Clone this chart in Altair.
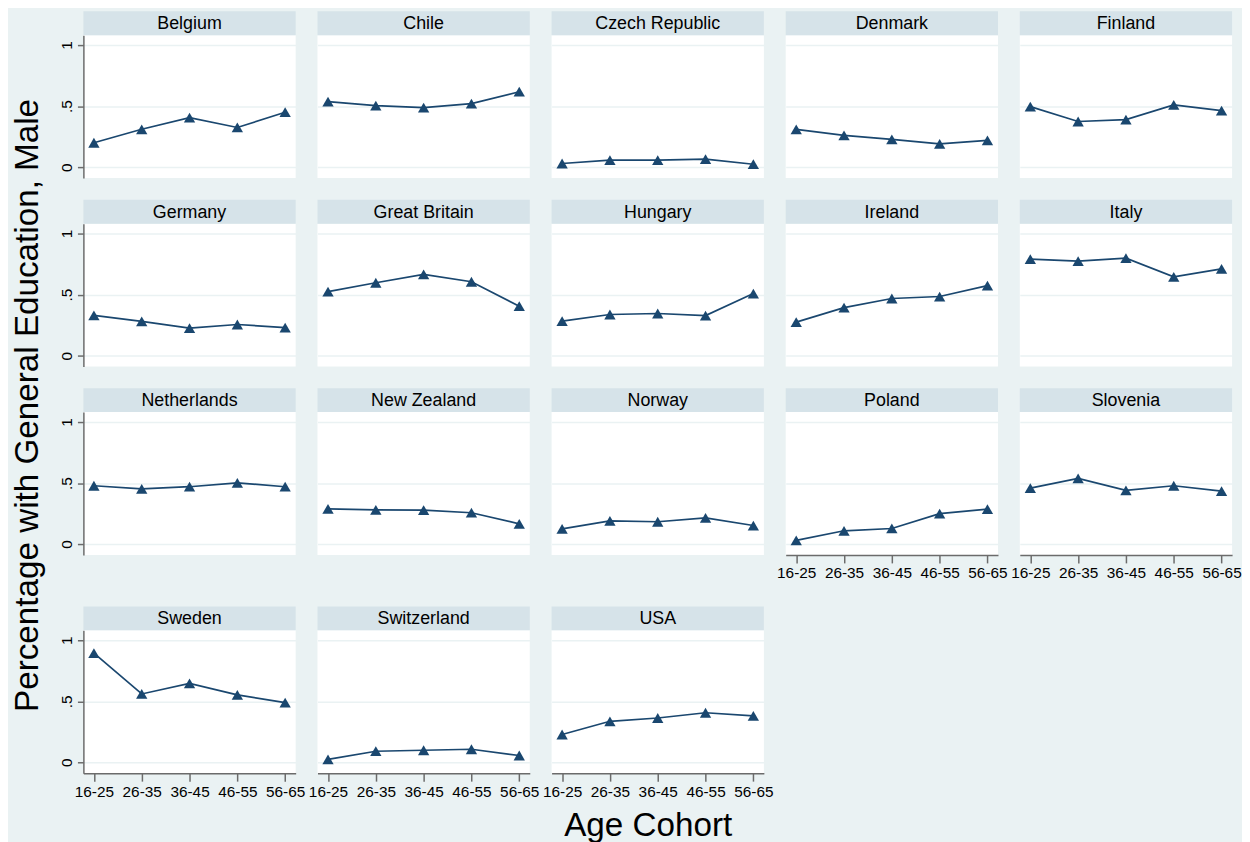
import altair as alt
import pandas as pd

cohorts = ["16-25", "26-35", "36-45", "46-55", "56-65"]

countries = ["Belgium", "Chile", "Czech Republic", "Denmark", "Finland",
             "Germany", "Great Britain", "Hungary", "Ireland", "Italy",
             "Netherlands", "New Zealand", "Norway", "Poland", "Slovenia",
             "Sweden", "Switzerland", "USA"]

belgium = [0.20, 0.31, 0.405, 0.325, 0.45]
chile = [0.537, 0.504, 0.488, 0.52, 0.618]
czech = [0.03, 0.057, 0.057, 0.065, 0.024]
denmark = [0.31, 0.26, 0.228, 0.19, 0.22]
finland = [0.496, 0.374, 0.39, 0.51, 0.463]
germany = [0.33, 0.28, 0.225, 0.255, 0.23]
great_britain = [0.524, 0.597, 0.665, 0.605, 0.405]
hungary = [0.282, 0.337, 0.345, 0.328, 0.508]
ireland = [0.274, 0.393, 0.468, 0.484, 0.573]
italy = [0.79, 0.774, 0.798, 0.645, 0.71]
netherlands = [0.478, 0.453, 0.47, 0.502, 0.47]
new_zealand = [0.289, 0.281, 0.279, 0.257, 0.166]
norway = [0.125, 0.19, 0.183, 0.215, 0.152]
poland = [0.03, 0.109, 0.128, 0.25, 0.286]
slovenia = [0.458, 0.538, 0.44, 0.478, 0.434]
sweden = [0.895, 0.56, 0.647, 0.553, 0.489]
switzerland = [0.024, 0.091, 0.099, 0.107, 0.056]
usa = [0.228, 0.336, 0.363, 0.406, 0.381]

series = [belgium, chile, czech, denmark, finland,
          germany, great_britain, hungary, ireland, italy,
          netherlands, new_zealand, norway, poland, slovenia,
          sweden, switzerland, usa]

W, H, HDR = 214, 144, 24
YDOM = [-0.089, 1.081]
NAVY = "#1a476f"
BG = "#eaf2f3"
STRIP = "#d6e3e9"
AXIS = "#6b6b6b"
FONT = "Liberation Sans"


def panel(name, values, show_y, show_x):
    df = pd.DataFrame({"cohort": cohorts, "value": values})
    hdf = pd.DataFrame({"country": [name]})
    if show_x:
        xaxis = alt.Axis(title=None, labelAngle=0, labelFontSize=15.5, labelFont=FONT,
                         labelColor="black", domainColor=AXIS, tickColor=AXIS,
                         tickSize=8, domainWidth=1.5, tickWidth=1.5, labelPadding=3,
                         grid=False)
    else:
        xaxis = None
    if show_y:
        yaxis = alt.Axis(title=None, values=[0, 0.5, 1],
                         labelExpr="datum.value == 0 ? '0' : (datum.value == 1 ? '1' : '.5')",
                         labelAngle=270, labelFontSize=15.5, labelFont=FONT, labelColor="black",
                         tickSize=6, tickColor=AXIS, domainColor=AXIS, domainWidth=1.5,
                         tickWidth=1.5, labelPadding=3, gridColor=BG, gridWidth=1.5)
    else:
        yaxis = alt.Axis(title=None, values=[0, 0.5, 1], labels=False, ticks=False,
                         domain=False, gridColor=BG, gridWidth=1.5)
    x = alt.X("cohort:O", sort=cohorts, scale=alt.Scale(type="point", padding=0.22), axis=xaxis)
    y = alt.Y("value:Q", scale=alt.Scale(domain=YDOM, nice=False, zero=False), axis=yaxis)
    base = alt.Chart(df).encode(x=x, y=y)
    line = base.mark_line(color=NAVY, strokeWidth=1.7)
    pts = base.mark_point(shape="triangle-up", filled=True, size=130, color=NAVY, opacity=1)
    strip = alt.Chart(hdf).mark_rect(color=STRIP).encode(
        x=alt.value(0), x2=alt.value(W), y=alt.value(-HDR), y2=alt.value(0))
    label = alt.Chart(hdf).mark_text(font=FONT, fontSize=18, color="black",
                                     baseline="middle", align="center").encode(
        text="country:N", x=alt.value(W / 2), y=alt.value(-HDR / 2 + 1))
    return alt.layer(line, pts, strip, label).properties(width=W, height=H)


# which panels show an x axis: bottom panel of each column
bottom = {"Poland", "Slovenia", "Sweden", "Switzerland", "USA"}
rows = []
for r in range(4):
    items = []
    for c in range(5):
        i = r * 5 + c
        if i >= len(countries):
            break
        items.append(panel(countries[i], series[i], c == 0, countries[i] in bottom))
    rows.append(alt.hconcat(*items, spacing=22, bounds="flush"))

top3 = alt.vconcat(rows[0], rows[1], rows[2], spacing=22)

grid = alt.vconcat(top3, rows[3], spacing=25, title=alt.TitleParams(
    text="Percentage with General Education, Male", orient="left", anchor="middle",
    fontSize=33.5, font=FONT, fontWeight="normal", color="black", offset=14))

chart = alt.vconcat(grid, title=alt.TitleParams(
    text="Age Cohort", orient="bottom", anchor="middle", fontSize=33.5, font=FONT,
    fontWeight="normal", color="black", offset=11, dx=22)).properties(
    background=BG, padding={"left": 3, "top": 0, "right": 0, "bottom": 0}
).configure_view(fill="white", stroke=None)

chart.save("out.html", embed_options={"renderer": "svg", "actions": False})
